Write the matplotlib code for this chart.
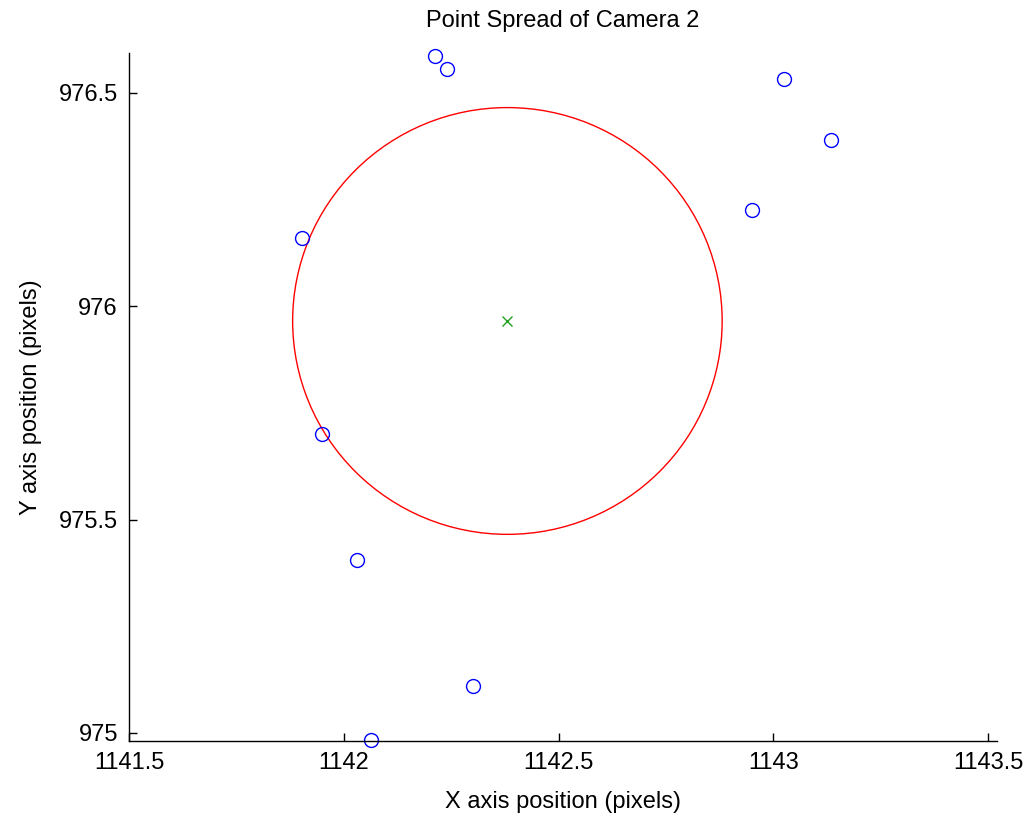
import matplotlib.pyplot as plt
from matplotlib.patches import Circle

# measured point positions (pixels)
xs = [1142.212, 1142.240, 1143.025, 1143.134, 1142.951,
      1141.903, 1141.949, 1142.031, 1142.301, 1142.063]
ys = [976.587, 976.556, 976.533, 976.390, 976.226,
      976.160, 975.701, 975.406, 975.110, 974.984]
radius = 0.5

xticks = [1141.5, 1142, 1142.5, 1143, 1143.5]
xticklabels = ['1141.5', '1142', '1142.5', '1143', '1143.5']
yticks = [975, 975.5, 976, 976.5]
yticklabels = ['975', '975.5', '976', '976.5']

plt.rcParams['font.family'] = ['Liberation Sans', 'DejaVu Sans']

fig = plt.figure(figsize=(10.34, 8.18), dpi=100)
ax = fig.add_axes([0.1248, 0.0941, 0.8395, 0.841])

cx = sum(xs) / len(xs)
cy = sum(ys) / len(ys)

ax.plot(xs, ys, 'o', mfc='none', mec='blue', ms=10, mew=1.0, clip_on=False)
ax.add_patch(Circle((cx, cy), radius, fill=False, ec='red', lw=1.0))
ax.plot([cx], [cy], 'x', color='#22a022', ms=7.5, mew=1.0)

ax.set_xlim(1141.5, 1143.521)
ax.set_ylim(974.981, 976.593)
ax.set_xticks(xticks)
ax.set_xticklabels(xticklabels)
ax.set_yticks(yticks)
ax.set_yticklabels(yticklabels)

for s in ['top', 'right']:
    ax.spines[s].set_visible(False)
for s in ['left', 'bottom']:
    ax.spines[s].set_linewidth(1.0)
ax.tick_params(direction='in', length=6, width=1.0, labelsize=17, pad=8, colors='black')

ax.set_title('Point Spread of Camera 2', fontsize=17, pad=19)
ax.set_xlabel('X axis position (pixels)', fontsize=17, labelpad=12)
ax.set_ylabel('Y axis position (pixels)', fontsize=17, labelpad=12)

plt.savefig('out.png', dpi=100)
